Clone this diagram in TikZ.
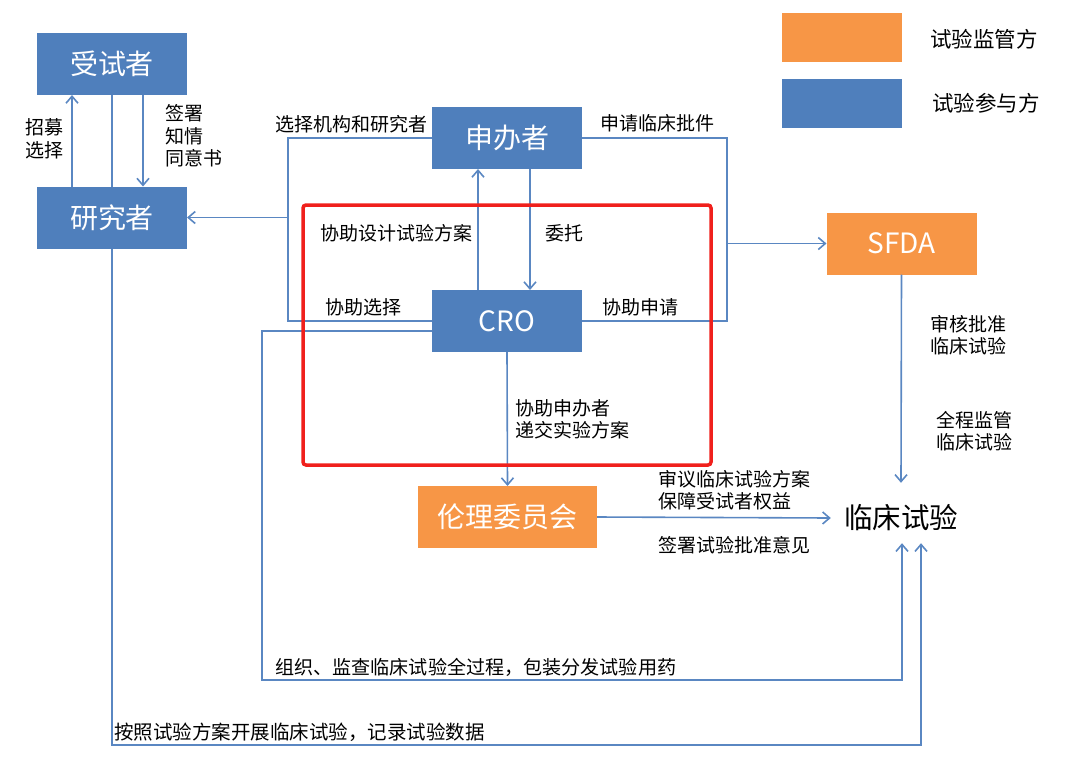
\documentclass[tikz,border=0pt]{standalone}
\usepackage{fontspec}
\setmainfont{Noto Sans CJK SC}
\usepackage{xcolor}
\usepackage{tikz}
\usetikzlibrary{positioning, arrows.meta}
\definecolor{partyblue}{HTML}{4F7FBC}
\definecolor{regorange}{HTML}{F79646}
\definecolor{linkblue}{HTML}{5A87C2}
\definecolor{framered}{HTML}{F0201C}

\begin{document}
\begin{tikzpicture}[x=1pt, y=-1pt,
    >={Straight Barb[length=7pt,width=12pt]},
    party/.style={fill=partyblue, text=white, minimum width=150pt, minimum height=62pt,
      inner sep=0pt, outer sep=0pt, font=\fontsize{28}{30}\selectfont},
    regulator/.style={party, fill=regorange},
    lbl/.style={inner sep=0pt, align=left, anchor=west, font=\fontsize{19}{22.5}\selectfont},
    link/.style={draw=linkblue, line width=1.6pt},
    flow/.style={link, ->}]
    \useasboundingbox (0,0) rectangle (1080,772);

    % legend
    \fill[regorange] (782,13) rectangle (902,62);
    \fill[partyblue] (782,79) rectangle (902,128);
    \node[lbl, font=\fontsize{21.5}{24}\selectfont] (legreg) at (930,39) {试验监管方};
    \node[lbl, font=\fontsize{21.5}{24}\selectfont] (legpar) at (932,103) {试验参与方};

    % parties
    \node[party] (sub) at (112,64) {受试者};
    \node[party] (inv) at (112,217.5) {研究者};
    \node[party] (spon) at (507,138) {申办者};
    \node[party] (cro) at (507,321) {CRO};
    \node[regulator] (sfda) at (901.5,243.5) {SFDA};
    \node[regulator, minimum width=179pt] (eth) at (507.5,517) {伦理委员会};
    \node[inner sep=0pt, minimum height=60pt, minimum width=126pt,
      font=\fontsize{28.5}{30}\selectfont] (trial) at (901,518) {临床试验};

    \coordinate (selL) at (288,217.5);
    \coordinate (appR) at (727,243.5);
    \coordinate (orgL) at (262,680);
    \coordinate (recL) at (112,745);

    % subject and investigator
    \draw[flow] ([xshift=-40pt]inv.north) -- ([xshift=-40pt]sub.south);
    \draw[link] (sub.south) -- (inv.north);
    \draw[flow] ([xshift=31pt]sub.south) -- ([xshift=31pt]inv.north);
    \node[lbl] (recruit) at (25,139) {招募\\选择};
    \node[lbl] (consent) at (165,136) {签署\\知情\\同意书};

    % sponsor and CRO
    \draw[link] (spon.west) -| (selL) |- (cro.west);
    \draw[flow] (selL) -- (inv.east);
    \draw[link] (spon.east) -| (appR) |- (cro.east);
    \draw[flow] (appR) -- (sfda.west);
    \draw[flow] ([xshift=-29pt]cro.north) -- ([xshift=-29pt]spon.south);
    \draw[flow] ([xshift=23pt]spon.south) -- ([xshift=23pt]cro.north);
    \draw[flow] (cro.south) -- (eth.north);
    \node[lbl] (choose) at (275,124) {选择机构和研究者};
    \node[lbl] (apply) at (600,123) {申请临床批件};
    \node[lbl] (design) at (320,233) {协助设计试验方案};
    \node[lbl] (entrust) at (545,233) {委托};
    \node[lbl] (helpsel) at (325,307) {协助选择};
    \node[lbl] (helpapp) at (602,307) {协助申请};
    \node[lbl] (submit) at (515,419.5) {协助申办者\\递交实验方案};

    % to the trial
    \draw[flow] (eth.east) -- ([xshift=-7pt]trial.west);
    \draw[flow] (sfda.south) -- ([yshift=5pt]trial.north);
    \draw[flow] ([yshift=-10pt]cro.west) -| (orgL) -| ([xshift=1pt, yshift=5pt]trial.south);
    \draw[flow] (inv.south) -- (recL) -| ([xshift=20pt, yshift=5pt]trial.south);
    \node[lbl] (review) at (658,490.5) {审议临床试验方案\\保障受试者权益};
    \node[lbl] (sign) at (658,545) {签署试验批准意见};
    \node[lbl] (approve) at (930,335) {审核批准\\临床试验};
    \node[lbl] (monitor) at (936,431) {全程监管\\临床试验};
    \node[lbl, font=\fontsize{19.1}{22.5}\selectfont] (organise) at (275,667) {组织、监查临床试验全过程，包装分发试验用药};
    \node[lbl, font=\fontsize{19.5}{22.5}\selectfont] (record) at (114,732) {按照试验方案开展临床试验，记录试验数据};

    % CRO scope
    \draw[framered, line width=3.5pt, rounded corners=3pt] (303,205) rectangle (711,465);
\end{tikzpicture}
\end{document}
